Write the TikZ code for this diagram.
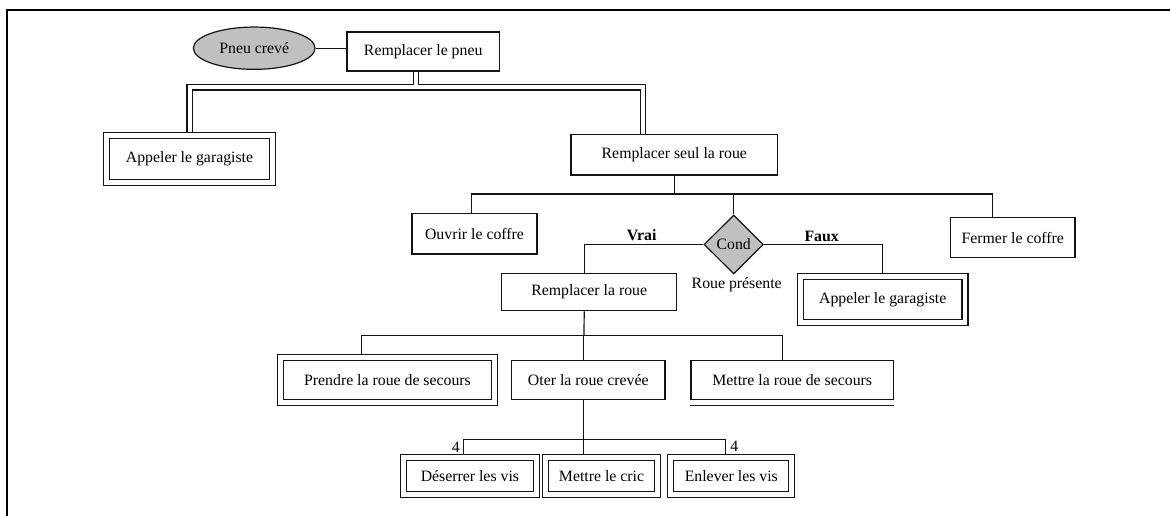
\documentclass[tikz,border=0pt]{standalone}
\usepackage{fontspec}
\setmainfont{Liberation Serif}
\usetikzlibrary{shapes.geometric,calc}
\definecolor{cgris}{HTML}{C0C0C0}
\definecolor{ctrait}{HTML}{141414}
\tikzset{
  tbox/.style={draw=ctrait, line width=1.2pt, inner sep=0pt, align=center,
               font=\fontsize{15.8}{19}\selectfont},
  dbox/.style={tbox, double, double distance=4.8pt, outer sep=3.6pt},
  nevt/.style={tbox, ellipse, fill=cgris},
  ncond/.style={tbox, diamond, fill=cgris},
  nlbl/.style={inner sep=0pt, font=\fontsize{15.8}{19}\selectfont},
  lnk/.style={line width=1.2pt, draw=ctrait},
  dlnk/.style={line width=1.1pt, draw=ctrait, double, double distance=4pt},
}
\begin{document}
\begin{tikzpicture}[x=1pt, y=-1pt]
  \useasboundingbox (0,0) rectangle (1170,516);
  \draw[line width=2pt] (7,516) -- (7,10) -- (1170,10);
  % racine
  \node[nevt, minimum width=121.7pt, minimum height=42.3pt] (crev) at (254.2,48.2) {Pneu crevé};
  \node[tbox, minimum width=152.3pt, minimum height=39pt] (pneu) at (423.2,51.5) {Remplacer le pneu};
  \node[dbox, minimum width=165.5pt, minimum height=46.8pt] (garage1) at (189.5,158.9) {Appeler le garagiste};
  \node[tbox, minimum width=206.7pt, minimum height=40.7pt] (seul) at (674.3,154.7) {Remplacer seul la roue};
  % niveau 2
  \node[tbox, minimum width=125pt, minimum height=40.7pt] (ouvrir) at (474.5,233.7) {Ouvrir le coffre};
  \node[ncond, minimum width=59.3pt, minimum height=59pt] (cond) at (733.7,244.5) {Cond};
  \node[tbox, minimum width=124.3pt, minimum height=40pt] (fermer) at (1012.8,237.7) {Fermer le coffre};
  \node[nlbl, font=\fontsize{15.8}{19}\selectfont\bfseries] (vrai) at (641.7,235) {Vrai};
  \node[nlbl, font=\fontsize{15.8}{19}\selectfont\bfseries] (faux) at (821.7,236) {Faux};
  \node[nlbl] (rpres) at (736.7,285) {Roue présente};
  \node[tbox, minimum width=175pt, minimum height=37.4pt] (rroue) at (589.2,292) {Remplacer la roue};
  \node[dbox, minimum width=164.5pt, minimum height=46.2pt] (garage2) at (882.7,299.4) {Appeler le garagiste};
  % niveau 3
  \node[dbox, minimum width=213.5pt, minimum height=45.2pt] (prendre) at (387.5,379.9) {Prendre la roue de secours};
  \node[tbox, minimum width=153.3pt, minimum height=39pt] (oter) at (588.3,379.8) {Oter la roue crevée};
  \node[tbox, minimum width=202.3pt, minimum height=39pt] (mroue) at (792.2,379.8) {Mettre la roue de secours};
  % niveau 4
  \node[dbox, minimum width=133.2pt, minimum height=37.3pt] (deserrer) at (469.9,475.9) {Déserrer les vis};
  \node[dbox, minimum width=112.5pt, minimum height=37.3pt] (cric) at (601.5,475.9) {Mettre le cric};
  \node[dbox, minimum width=121pt, minimum height=37.3pt] (enlever) at (731.3,475.9) {Enlever les vis};
  \node[nlbl] (n4a) at (455.7,447.7) {4};
  \node[nlbl] (n4b) at (734.3,446) {4};

  \draw[lnk] (crev.east) -- (crev.east -| pneu.west);
  \coordinate (j1) at (416,87.5);
  \draw[dlnk] (garage1.north) |- (j1) -| ([xshift=-31pt]seul.north);
  \draw[dlnk] (pneu.south -| j1) -- ($(j1)+(0,-2)$);

  \coordinate (b1) at (674.3,194);
  \draw[lnk] (seul.south) -- (b1);
  \draw[lnk] ([xshift=-3pt]ouvrir.north) |- (b1) -| ([xshift=-20pt]fermer.north);
  \draw[lnk] (cond.north) -- (cond.north |- b1);
  \draw[lnk] (cond.west) -| ([xshift=-5pt]rroue.north);
  \draw[lnk] (cond.east) -| (garage2.north);

  \coordinate (b2) at (584,335.7);
  \draw[lnk] ([xshift=-5pt]rroue.south) -- (b2);
  \draw[lnk] ([xshift=-26pt]prendre.north) |- (b2) -| ([xshift=-10pt]mroue.north);
  \draw[lnk] ([xshift=-5pt]oter.north) -- ([xshift=-5pt]oter.north |- b2);
  \draw[lnk, line width=1.5pt] ([yshift=-5.7pt]mroue.south west) -- ([yshift=-5.7pt]mroue.south east);

  \coordinate (b3) at (583.3,439.3);
  \draw[lnk] ([xshift=-5pt]oter.south) -- (b3) -- (b3 |- cric.north);
  \draw[lnk] ([xshift=-6.6pt]deserrer.north) |- (b3) -| ([xshift=-5.6pt]enlever.north);
\end{tikzpicture}
\end{document}
